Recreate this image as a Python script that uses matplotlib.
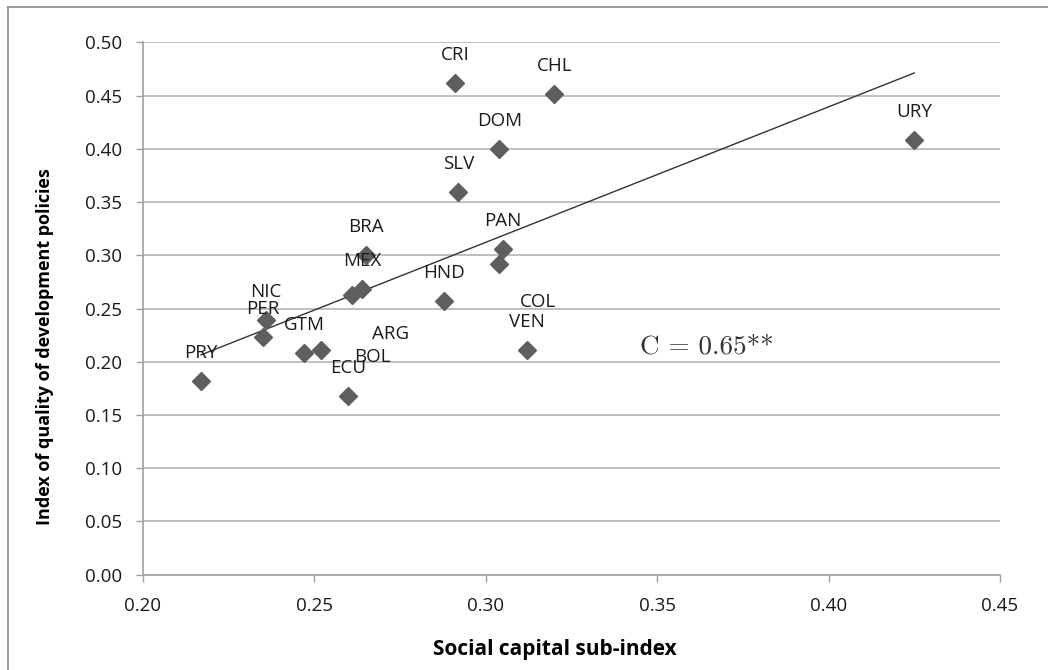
import numpy as np
import matplotlib
matplotlib.use("Agg")
import matplotlib.pyplot as plt
from matplotlib.lines import Line2D

# data
countries = ["PRY", "PER", "NIC", "GTM", "BOL", "ECU", "ARG", "MEX", "BRA",
             "HND", "PAN", "COL", "VEN", "SLV", "DOM", "CRI", "CHL", "URY"]
social_capital = [0.217, 0.235, 0.236, 0.247, 0.252, 0.260, 0.261, 0.264, 0.265,
                  0.288, 0.305, 0.304, 0.312, 0.292, 0.304, 0.291, 0.320, 0.425]
policy_quality = [0.182, 0.223, 0.239, 0.208, 0.211, 0.168, 0.263, 0.268, 0.300,
                  0.257, 0.306, 0.292, 0.211, 0.359, 0.400, 0.462, 0.451, 0.408]
xticks = [0.20, 0.25, 0.30, 0.35, 0.40, 0.45]
yticks = [0.00, 0.05, 0.10, 0.15, 0.20, 0.25, 0.30, 0.35, 0.40, 0.45, 0.50]
corr_text = "C = 0.65**"

# label offsets in pixels (default is straight above the point)
label_shift = {"ARG": (39, -39), "BOL": (51, -7), "COL": (39, -38)}

plt.rcParams['font.family'] = ['Open Sans', 'DejaVu Sans']

fig = plt.figure(figsize=(10.48, 6.70), dpi=100)
ax = fig.add_axes([0.1362, 0.1422, 0.9542 - 0.1362, 0.9369 - 0.1422])

# outer chart frame (only top and left visible)
fig.add_artist(Line2D([8/1048, 1.0], [1 - 7/670, 1 - 7/670], transform=fig.transFigure,
                      color="#8a8a8a", lw=1.2))
fig.add_artist(Line2D([8/1048, 8/1048], [0.0, 1 - 7/670], transform=fig.transFigure,
                      color="#8a8a8a", lw=1.2))

ax.set_xlim(0.20, 0.45)
ax.set_ylim(0.0, 0.50)
ax.set_xticks(xticks)
ax.set_yticks(yticks)
ax.set_xticklabels([f"{v:.2f}" for v in xticks])
ax.set_yticklabels([f"{v:.2f}" for v in yticks])
ax.tick_params(axis="both", direction="out", length=5, width=1, color="#a0a0a0",
               labelsize=13.5, labelcolor="#1a1a1a")
ax.tick_params(axis="y", pad=10)
ax.tick_params(axis="x", pad=11)
ax.grid(axis="y", color="#b4b4b4", lw=1.2)
ax.set_axisbelow(True)
for s in ["top", "right"]:
    ax.spines[s].set_visible(False)
for s in ["left", "bottom"]:
    ax.spines[s].set_color("#a0a0a0")
    ax.spines[s].set_linewidth(1.2)

# trend line (least squares)
b, a = np.polyfit(social_capital, policy_quality, 1)
xs = np.array([min(social_capital), max(social_capital)])
ax.plot(xs, a + b * xs, color="#333333", lw=1)

ax.plot(social_capital, policy_quality, "D", color="#5e5e5e", ms=9.5, zorder=3)

for name, x, y in zip(countries, social_capital, policy_quality):
    dx, dy = label_shift.get(name, (0, 28))
    ax.annotate(name, (x, y), xytext=(dx, dy), textcoords="offset pixels",
                ha="center", va="center", fontsize=13.5, color="#1a1a1a", zorder=4)

ax.text(0.3645, 0.2145, corr_text, family="cmr10", fontsize=19.5, ha="center", va="center",
        color="#333333")

fig.text(555/1048, 1 - 650/670, "Social capital sub-index", fontsize=15,
         fontweight="bold", ha="center", va="center")
fig.text(45/1048, 1 - 347/670, "Index of quality of development policies", fontsize=13,
         fontweight="bold", ha="center", va="center", rotation=90)

fig.savefig("out.png", dpi=100)
